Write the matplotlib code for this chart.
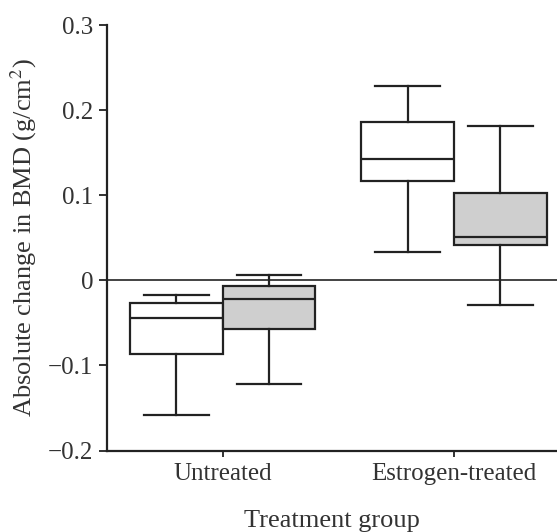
import matplotlib
matplotlib.use("Agg")
import matplotlib.pyplot as plt

groups = ["Untreated", "Estrogen-treated"]
series = ["white", "gray"]
# per box: lower whisker, q1, median, q3, upper whisker
untreated_white = [-0.158, -0.0864, -0.0441, -0.0265, -0.0176]
untreated_gray = [-0.1216, -0.057, -0.0218, -0.007, 0.0059]
estrogen_white = [0.0333, 0.117, 0.1425, 0.1855, 0.2285]
estrogen_gray = [-0.0285, 0.0419, 0.0505, 0.1026, 0.1816]
yticks = [-0.2, -0.1, 0, 0.1, 0.2, 0.3]
ytick_labels = ["\u22120.2", "\u22120.1", "0", "0.1", "0.2", "0.3"]

plt.rcParams['font.family'] = ['Liberation Serif', 'DejaVu Serif']
plt.rcParams['mathtext.fontset'] = 'stix'

def make_stats(vals):
    return {'whislo': vals[0], 'q1': vals[1], 'med': vals[2], 'q3': vals[3],
            'whishi': vals[4], 'fliers': []}

fig = plt.figure(figsize=(5.57, 5.32), dpi=100)
ax = fig.add_axes([0.192, 0.153, 0.808, 0.800])

line_col = '#222222'
txt_col = '#333333'
offs = [-0.2, 0.2]
fills = ['white', '#cfcfcf']
data = [[untreated_white, untreated_gray], [estrogen_white, estrogen_gray]]

# zero reference line
ax.axhline(0, color=line_col, lw=1.2, zorder=1)

for gi, grp in enumerate(data):
    for si, vals in enumerate(grp):
        ax.bxp([make_stats(vals)], positions=[gi + 1 + offs[si]], widths=0.4,
               patch_artist=True, showfliers=False,
               boxprops=dict(facecolor=fills[si], edgecolor=line_col, linewidth=1.6),
               medianprops=dict(color=line_col, linewidth=1.6),
               whiskerprops=dict(color=line_col, linewidth=1.6),
               capprops=dict(color=line_col, linewidth=1.6),
               capwidths=0.28, manage_ticks=False, zorder=2)

ax.set_xlim(0.5, 2.445)
ax.set_ylim(-0.2, 0.3)
ax.set_xticks([1, 2])
ax.set_xticklabels(groups, fontsize=18, color=txt_col)
ax.set_yticks(yticks)
ax.set_yticklabels(ytick_labels, fontsize=18, color=txt_col)
ax.tick_params(axis='y', direction='out', length=6, width=1.3, color=line_col, pad=4)
ax.tick_params(axis='x', direction='out', length=4, width=1.3, color=line_col, pad=5)

for s in ['top', 'right']:
    ax.spines[s].set_visible(False)
for s in ['left', 'bottom']:
    ax.spines[s].set_linewidth(1.6)
    ax.spines[s].set_color(line_col)

ax.set_ylabel("Absolute change in BMD (g/cm$^2$)", fontsize=19, color=txt_col)
ax.set_xlabel("Treatment group", fontsize=19, color=txt_col)
ax.yaxis.set_label_coords(-0.15, 0.5)
ax.xaxis.set_label_coords(0.5, -0.14)

fig.savefig("out.png", dpi=100)
